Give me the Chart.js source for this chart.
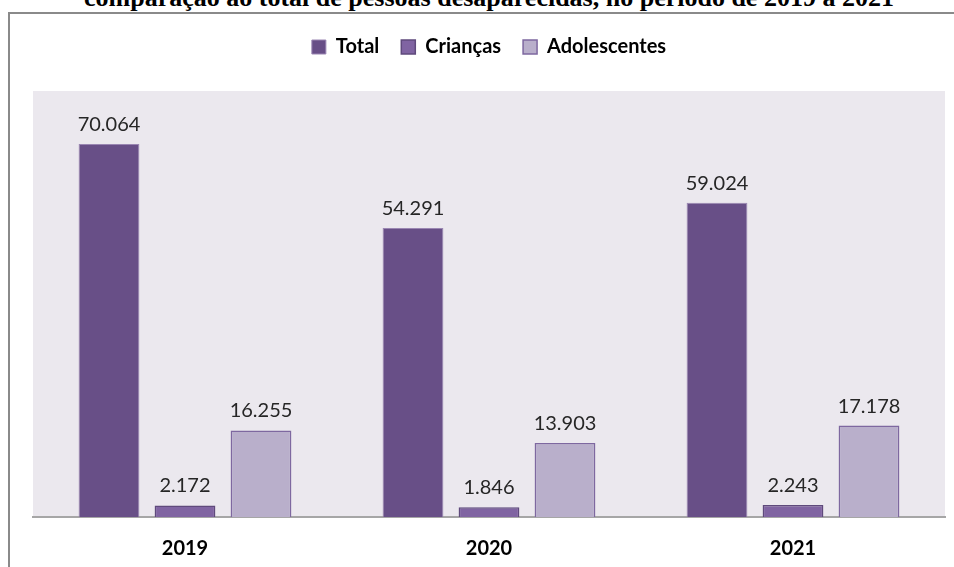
<!DOCTYPE html>
<html>
<head>
<meta charset="utf-8">
<script src="https://cdn.jsdelivr.net/npm/chart.js@4.4.0/dist/chart.umd.min.js"></script>
<style>
  body { margin: 0; background: #fff; }
  #wrap { position: relative; width: 954px; height: 567px; overflow: hidden; }
  #frame { position: absolute; left: 8px; top: 12px; width: 1000px; height: 600px;
           border-top: 2px solid #8a8a8a; border-left: 2px solid #8a8a8a; }
  #title { position: absolute; left: 0; width: 978px; top: -15px; text-align: center;
           font: bold 26px "Liberation Serif", "Times New Roman", serif; color: #000;
           white-space: nowrap; line-height: 26px; }
  #c { position: absolute; left: 0; top: 0; }
</style>
</head>
<body>
<div id="wrap">
  <div id="title">comparação ao total de pessoas desaparecidas, no período de 2019 a 2021</div>
  <div id="frame"></div>
  <canvas id="c" width="954" height="567"></canvas>
</div>
<script>
// dados
const anos = ['2019', '2020', '2021'];
const total = [70064, 54291, 59024];
const criancas = [2172, 1846, 2243];
const adolescentes = [16255, 13903, 17178];

// numero no formato 70.064
function fmt(v) {
  return v.toLocaleString('pt-BR');
}

// fundo cinza da area do grafico
const fundo = {
  id: 'fundo',
  beforeDraw(chart) {
    const a = chart.chartArea;
    const ctx = chart.ctx;
    ctx.save();
    ctx.fillStyle = '#ebe8ee';
    ctx.fillRect(a.left, a.top, a.right - a.left, a.bottom - a.top);
    ctx.restore();
  }
};

// rotulos acima das barras
const rotulos = {
  id: 'rotulos',
  afterDatasetsDraw(chart) {
    const ctx = chart.ctx;
    ctx.save();
    ctx.font = '20px Lato, "Open Sans", sans-serif';
    ctx.fillStyle = '#262626';
    ctx.textAlign = 'center';
    ctx.textBaseline = 'alphabetic';
    chart.data.datasets.forEach(function(ds, i) {
      chart.getDatasetMeta(i).data.forEach(function(bar, j) {
        ctx.fillText(fmt(ds.data[j]), bar.x, bar.y - 13);
      });
    });
    ctx.restore();
  }
};

// espaco entre legenda e grafico
const margemLegenda = {
  id: 'margemLegenda',
  beforeInit(chart) {
    const fit = chart.legend.fit;
    chart.legend.fit = function() {
      fit.bind(chart.legend)();
      this.height += 24;
    };
  }
};

new Chart(document.getElementById('c'), {
  type: 'bar',
  data: {
    labels: anos,
    datasets: [
      { label: 'Total', data: total, backgroundColor: '#684f87', borderColor: '#9a86b2', borderWidth: 1 },
      { label: 'Crianças', data: criancas, backgroundColor: '#8064a2', borderColor: '#5f4a7c', borderWidth: 1.5 },
      { label: 'Adolescentes', data: adolescentes, backgroundColor: '#b9afcb', borderColor: '#7e68a0', borderWidth: 1.5 }
    ]
  },
  options: {
    responsive: false,
    animation: false,
    layout: { padding: { left: 33, right: 9, top: 15, bottom: 0 } },
    datasets: { bar: { categoryPercentage: 0.75, barPercentage: 0.8 } },
    plugins: {
      legend: {
        position: 'top',
        align: 'center',
        labels: {
          boxWidth: 14,
          boxHeight: 14,
          padding: 22,
          color: '#000',
          font: { family: 'Lato, "Open Sans", sans-serif', size: 20, weight: 'bold' }
        }
      },
      tooltip: { enabled: false }
    },
    scales: {
      x: {
        grid: { display: false, drawTicks: false },
        border: { display: true, color: '#a6a6a6', width: 2 },
        ticks: {
          padding: 20,
          color: '#000',
          font: { family: 'Lato, "Open Sans", sans-serif', size: 20, weight: 'bold' }
        },
        afterFit(scale) {
          scale.height = 50;
        }
      },
      y: {
        display: false,
        min: 0,
        max: 80000
      }
    }
  },
  plugins: [fundo, rotulos, margemLegenda]
});
</script>
</body>
</html>
